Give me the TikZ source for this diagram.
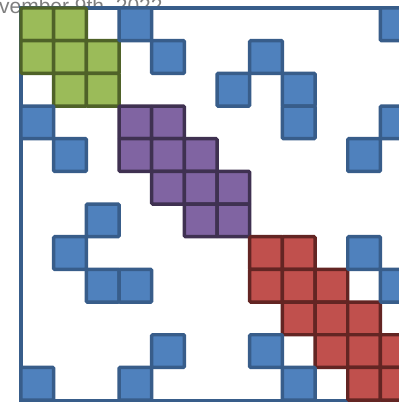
\documentclass[tikz,border=0pt]{standalone}
\usepackage{fontspec}
\setmainfont{Liberation Sans}
\usepackage{tikz}

\definecolor{blufill}{HTML}{4F81BD}
\definecolor{bluline}{HTML}{385D8A}
\definecolor{grnfill}{HTML}{9BBB59}
\definecolor{grnline}{HTML}{4F6228}
\definecolor{purfill}{HTML}{8064A2}
\definecolor{purline}{HTML}{3F3151}
\definecolor{redfill}{HTML}{C0504D}
\definecolor{redline}{HTML}{632523}
\definecolor{dategray}{HTML}{7F7F7F}

\begin{document}
\begin{tikzpicture}[x=24.5pt,y=24.5pt,
  cell/.style={line width=2.6pt,rounded corners=0.8pt},
  blu/.style={cell,fill=blufill,draw=bluline},
  grn/.style={cell,fill=grnfill,draw=grnline},
  pur/.style={cell,fill=purfill,draw=purline},
  rd/.style={cell,fill=redfill,draw=redline}]
\useasboundingbox (-0.643,0.245) rectangle (11.54,-12.12);
% date line of the slide, cut by the page edge
\node[anchor=base west,inner sep=0,text=dategray,font=\fontsize{15.75}{18}\selectfont] (date) at (-1.5,-0.153) {November 9th, 2022};
% matrix frame
\draw[line width=2.3pt,draw=bluline,fill=white] (0,0) rectangle (12,-12);
% diagonal blocks
\foreach \r/\c in {0/0,0/1,1/0,1/1,1/2,2/1,2/2}
  \draw[grn] (\c,-\r) rectangle ++(1,-1);
\foreach \r/\c in {3/3,3/4,4/3,4/4,4/5,5/4,5/5,5/6,6/5,6/6}
  \draw[pur] (\c,-\r) rectangle ++(1,-1);
\foreach \r/\c in {7/7,7/8,8/7,8/8,8/9,9/8,9/9,9/10,10/9,10/10,10/11,11/10,11/11}
  \draw[rd] (\c,-\r) rectangle ++(1,-1);
% coupling entries
\foreach \r/\c in {0/3,0/11,1/4,1/7,2/6,2/8,3/0,3/8,3/11,4/1,4/10,6/2,7/1,7/10,8/2,8/3,8/11,10/4,10/7,11/0,11/3,11/8}
  \draw[blu] (\c,-\r) rectangle ++(1,-1);
\end{tikzpicture}
\end{document}
